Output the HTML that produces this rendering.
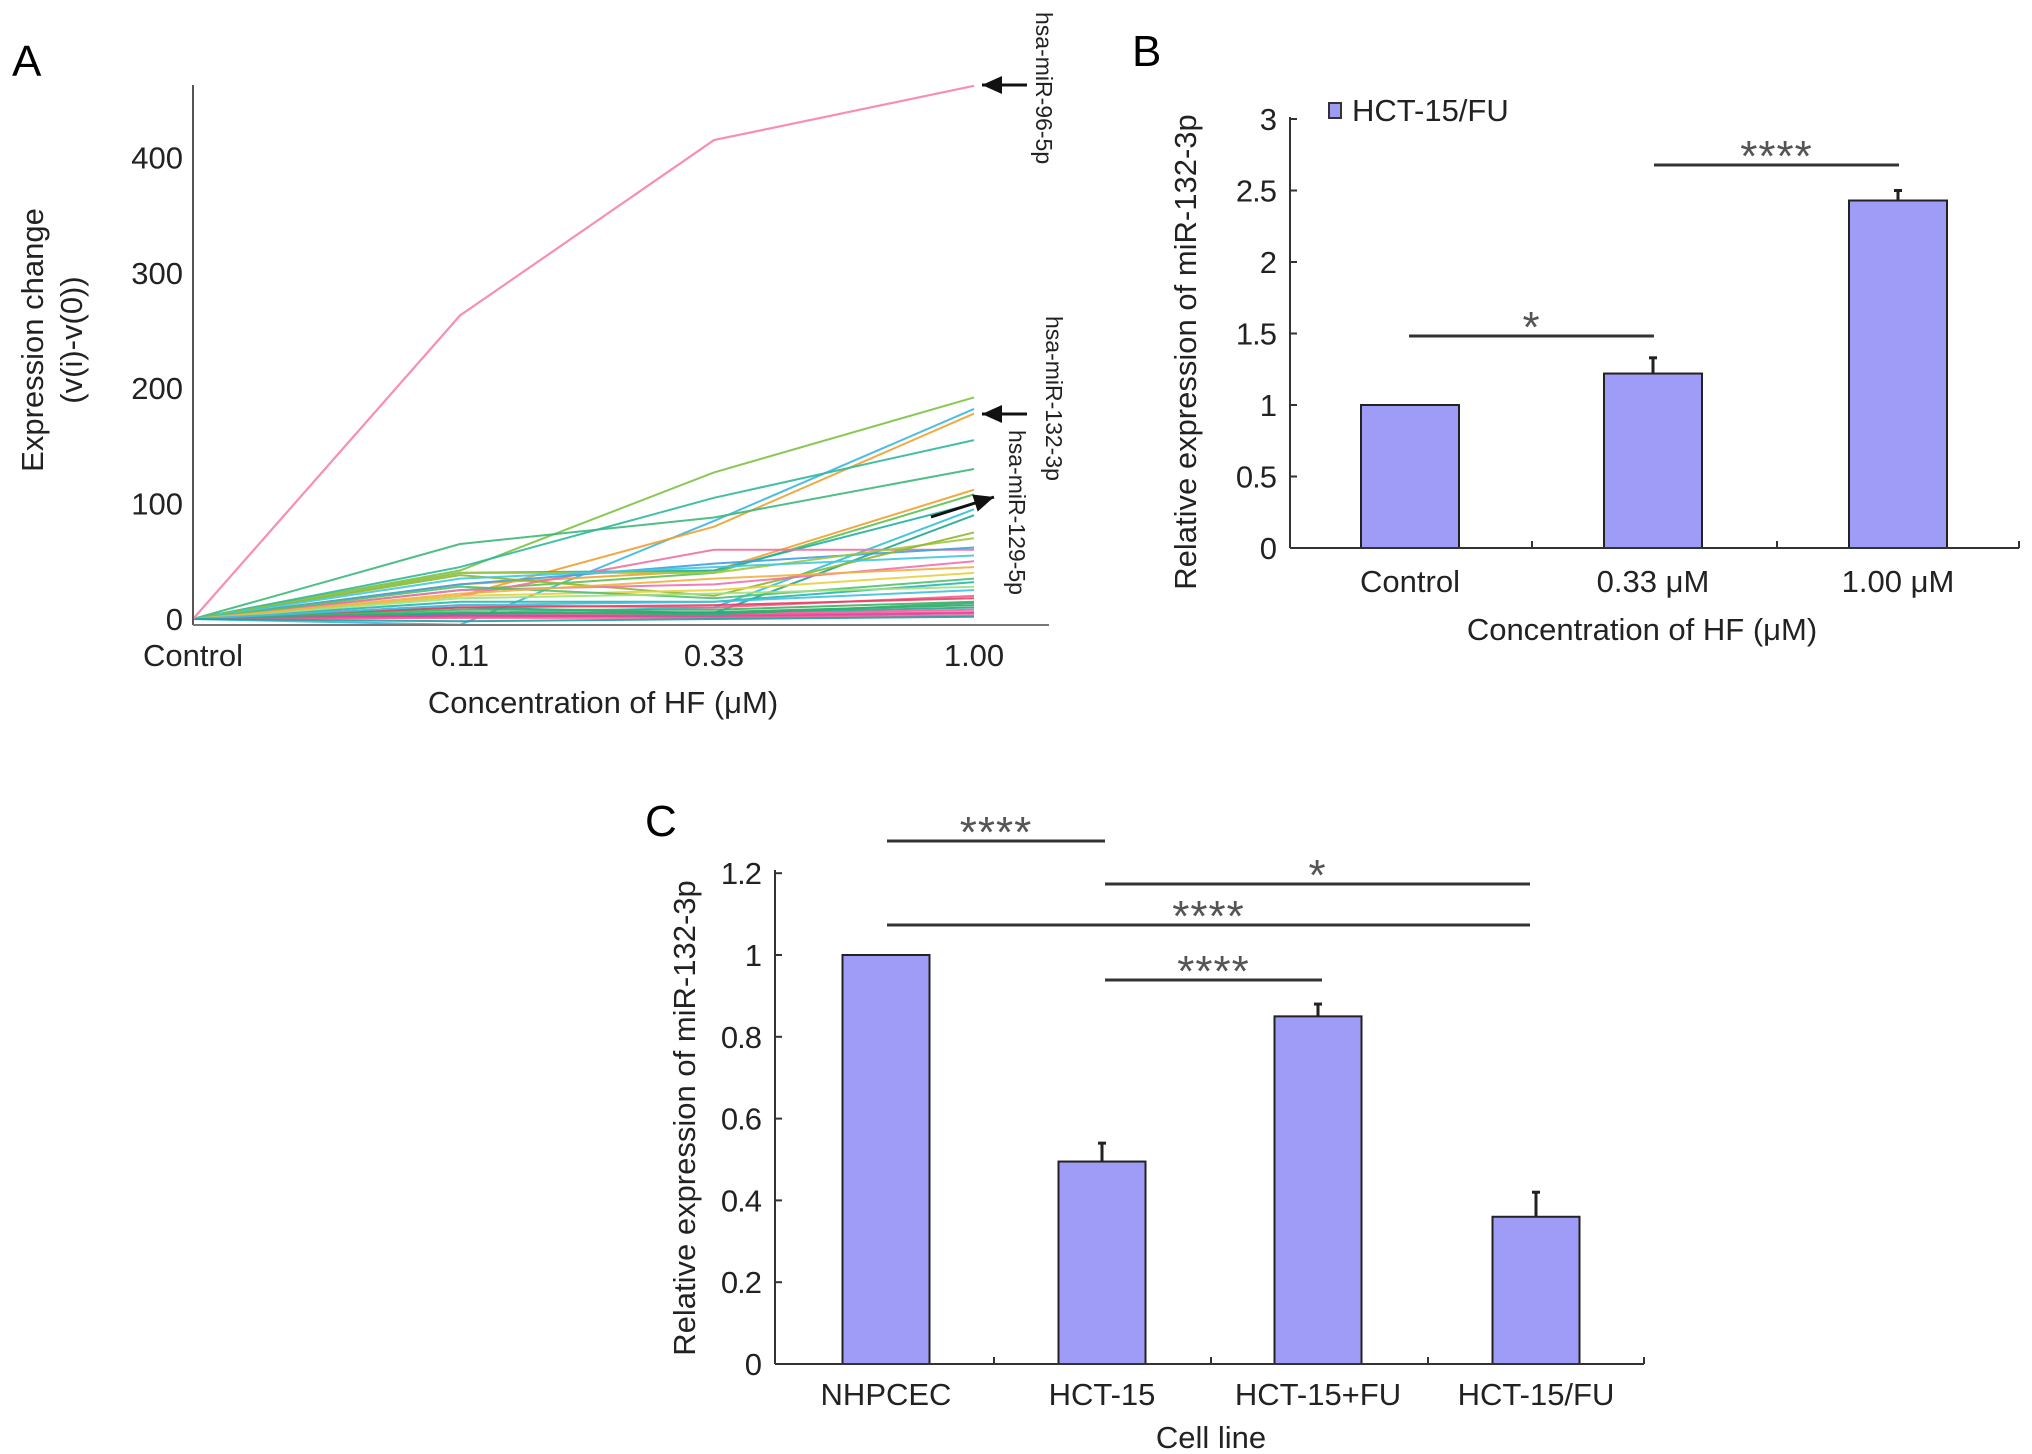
<!DOCTYPE html>
<html><head><meta charset="utf-8"><style>
html,body{margin:0;padding:0;background:#fff;}
svg{display:block;font-family:"Liberation Sans",Arial,sans-serif;}
</style></head><body>
<svg id="fig" width="2032" height="1454" viewBox="0 0 2032 1454" xmlns="http://www.w3.org/2000/svg">
<rect width="2032" height="1454" fill="#fff"/>
<g id="pa"></g>
<g id="pb"></g>
<g id="pc"></g>
</svg>
<script>
// ---------- Panel A data ----------
const aCategories = ["Control","0.11","0.33","1.00"];
const aTicks = [0,100,200,300,400];
const aMain = [0,263,415,462];
const aSeries = [
 [0,42,127,192],[0,-5,85,182],[0,20,80,178],[0,65,88,130],[0,45,105,155],
 [0,30,42,112],[0,25,40,108],[0,40,42,100],[0,5,10,95],[0,10,5,90],
 [0,20,60,60],[0,30,48,62],[0,40,40,70],[0,38,20,75],[0,35,45,55],
 [0,25,30,50],[0,20,25,40],[0,28,18,35],[0,15,15,32],[0,12,10,20],
 [0,10,12,18],[0,8,8,15],[0,5,6,12],[0,4,5,10],[0,3,4,8],[0,2,3,6],
 [0,6,4,14],[0,3,2,5],[0,1,1,3],[0,18,22,28],[0,22,35,45],[0,12,15,25],[0,-2,0,2]
];
const aColors = ["#7cc242","#3bb6e0","#f0a030","#3cb878","#2fb89a","#f0a030","#5cc050","#20b0a0","#30c0d8","#20a890",
 "#f070a0","#40a0e0","#a0c840","#90b830","#40c8e0","#f070b0","#e8d040","#50c070","#20b8b0","#f06090",
 "#e84060","#40b060","#30a860","#20a890","#f060a0","#f05090","#30b070","#e040a0","#f06090","#a0e080","#f0b040","#40c0e0","#20a0a0"];
// ---------- Panel B data ----------
const bCategories = ["Control","0.33 \u03bcM","1.00 \u03bcM"];
const bValues = [1.0,1.22,2.43];
const bErrors = [0,0.11,0.07];
const bTicks = [0,0.5,1,1.5,2,2.5,3];
const bTickLabels = ["0","0.5","1","1.5","2","2.5","3"];
// ---------- Panel C data ----------
const cCategories = ["NHPCEC","HCT-15","HCT-15+FU","HCT-15/FU"];
const cValues = [1.0,0.495,0.85,0.36];
const cErrors = [0,0.045,0.03,0.06];
const cTicks = [0,0.2,0.4,0.6,0.8,1,1.2];
const cTickLabels = ["0","0.2","0.4","0.6","0.8","1","1.2"];

const NS="http://www.w3.org/2000/svg";
function mk(parent,tag,attrs,text){const e=document.createElementNS(NS,tag);for(const k in attrs)e.setAttribute(k,attrs[k]);if(text!==undefined)e.textContent=text;parent.appendChild(e);return e;}

// ===== Panel A =====
(function(){
 const g=document.getElementById('pa');
 const x0=193, xs=[193,460,714,974], y0=619, per=1.154;
 const X=i=>xs[i], Y=v=>y0-v*per;
 let t=mk(g,'text',{x:12,y:76,'font-size':44},'A');
 
 
 aSeries.forEach((s,si)=>{
  const p=mk(g,'polyline',{points:s.map((v,i)=>X(i)+','+Y(v)).join(' '),fill:'none',stroke:aColors[si%aColors.length],'stroke-width':2,opacity:0.9});
  
  
 });
 const m=mk(g,'polyline',{points:aMain.map((v,i)=>X(i)+','+Y(v)).join(' '),fill:'none',stroke:'#f78fb3','stroke-width':2.2});
 
 
 const ax=mk(g,'line',{x1:x0,y1:85,x2:x0,y2:625,stroke:'#555','stroke-width':2});
 
 
 const bx=mk(g,'line',{x1:x0,y1:625,x2:1049,y2:625,stroke:'#777','stroke-width':2});
 
 
 aTicks.forEach(v=>{
  const l=mk(g,'text',{x:183,y:Y(v)+11,'font-size':31,'text-anchor':'end',fill:'#222'},String(v));
  
  
 });
 aCategories.forEach((c,i)=>{
  const l=mk(g,'text',{x:X(i),y:666,'font-size':31,'text-anchor':'middle',fill:'#222'},c);
  
  
 });
 let xt=mk(g,'text',{x:603,y:713,'font-size':31,'text-anchor':'middle',fill:'#222'},'Concentration of HF (\u03bcM)');
 
 
 let yt=mk(g,'text',{transform:'translate(43,340) rotate(-90)','font-size':31,'text-anchor':'middle',fill:'#222'},'Expression change');
 
 
 let yt2=mk(g,'text',{transform:'translate(82,340) rotate(-90)','font-size':31,'text-anchor':'middle',fill:'#222'},'(v(i)-v(0))');
 
 
 const labs=[['hsa-miR-96-5p',1036,12],['hsa-miR-132-3p',1046,316],['hsa-miR-129-5p',1009,430]];
 labs.forEach(([s,x,y])=>{
  const l=mk(g,'text',{transform:`translate(${x},${y}) rotate(90)`,'font-size':23,fill:'#222'},s);
  
  
 });
 [[1027,85,982,85],[1027,414,982,414],[931,517,994,497]].forEach(([x1,y1,x2,y2])=>{
  const l=mk(g,'line',{x1,y1,x2,y2,stroke:'#111','stroke-width':3});
  
  
  const a=Math.atan2(y2-y1,x2-x1),L=20,W=9;
  const pts=[[x2,y2],[x2-L*Math.cos(a)+W*Math.sin(a),y2-L*Math.sin(a)-W*Math.cos(a)],[x2-L*Math.cos(a)-W*Math.sin(a),y2-L*Math.sin(a)+W*Math.cos(a)]];
  const h=mk(g,'polygon',{points:pts.map(p=>p.join(',')).join(' '),fill:'#111'});
  
  
 });
})();

function barPanel(g,o){
 const {ax,y0,per,yTop,xEnd,centers,bw,cats,vals,errs,ticks,tickLabels,seps,labelY}=o;
 const Y=v=>y0-v*per;
 vals.forEach((v,i)=>{
  const r=mk(g,'rect',{x:centers[i]-bw/2,y:Y(v),width:bw,height:y0-Y(v),fill:'#9e9cf7',stroke:'#222','stroke-width':2});
  
  
  if(errs[i]>0){
   const e=mk(g,'line',{x1:centers[i],y1:Y(v),x2:centers[i],y2:Y(v+errs[i]),stroke:'#222','stroke-width':3});
   
   
   const c=mk(g,'line',{x1:centers[i]-4,y1:Y(v+errs[i]),x2:centers[i]+4,y2:Y(v+errs[i]),stroke:'#222','stroke-width':3});
   
   
  }
  const l=mk(g,'text',{x:centers[i],y:labelY,'font-size':31,'text-anchor':'middle',fill:'#222'},cats[i]);
  
  
 });
 const a=mk(g,'line',{x1:ax,y1:yTop,x2:ax,y2:y0,stroke:'#333','stroke-width':2});
 
 
 const b=mk(g,'line',{x1:ax,y1:y0,x2:xEnd,y2:y0,stroke:'#333','stroke-width':2});
 
 
 ticks.forEach((v,i)=>{
  const t=mk(g,'line',{x1:ax,y1:Y(v),x2:ax+7,y2:Y(v),stroke:'#333','stroke-width':2});
  
  
  const l=mk(g,'text',{x:ax-14,y:Y(v)+11,'font-size':31,'text-anchor':'end',fill:'#222','letter-spacing':'-1'},tickLabels[i]);
  
  
 });
 seps.concat([xEnd]).forEach(x=>{
  const t=mk(g,'line',{x1:x,y1:y0,x2:x,y2:y0-7,stroke:'#333','stroke-width':2});
  
  
 });
}
function sig(g,x1,x2,y,s){
 const l=mk(g,'line',{x1,y1:y,x2,y2:y,stroke:'#333','stroke-width':3});
 
 
 const t=mk(g,'text',{x:(x1+x2)/2,y:y+6,'font-size':44,'text-anchor':'middle',fill:'#555','letter-spacing':'1'},s);
 
 
}

// ===== Panel B =====
(function(){
 const g=document.getElementById('pb');
 barPanel(g,{ax:1290,y0:548,per:143,yTop:117,xEnd:2019,centers:[1410,1653,1898],bw:98,cats:bCategories,vals:bValues,errs:bErrors,ticks:bTicks,tickLabels:bTickLabels,seps:[1532,1777],labelY:592});
 let t=mk(g,'text',{x:1132,y:66,'font-size':44},'B');
 
 
 const lg=mk(g,'rect',{x:1329,y:103,width:12,height:15,fill:'#9e9cf7',stroke:'#333','stroke-width':2});
 
 
 const lt=mk(g,'text',{x:1352,y:121,'font-size':31,fill:'#222'},'HCT-15/FU');
 
 
 sig(g,1409,1654,336,'*');
 sig(g,1654,1899,165,'****');
 const xt=mk(g,'text',{x:1642,y:640,'font-size':31,'text-anchor':'middle',fill:'#222'},'Concentration of HF (\u03bcM)');
 
 
 const yt=mk(g,'text',{transform:'translate(1196,352) rotate(-90)','font-size':31,'text-anchor':'middle',fill:'#222'},'Relative expression of miR-132-3p');
 
 
})();

// ===== Panel C =====
(function(){
 const g=document.getElementById('pc');
 barPanel(g,{ax:775,y0:1364,per:409,yTop:870,xEnd:1644,centers:[886,1102,1318,1536],bw:87,cats:cCategories,vals:cValues,errs:cErrors,ticks:cTicks,tickLabels:cTickLabels,seps:[994,1211,1428],labelY:1405});
 let t=mk(g,'text',{x:645,y:836,'font-size':44},'C');
 
 
 sig(g,887,1105,841,'****');
 sig(g,1105,1530,884,'*');
 sig(g,887,1530,925,'****');
 sig(g,1105,1322,980,'****');
 const xt=mk(g,'text',{x:1211,y:1448,'font-size':31,'text-anchor':'middle',fill:'#222'},'Cell line');
 
 
 const yt=mk(g,'text',{transform:'translate(695,1118) rotate(-90)','font-size':31,'text-anchor':'middle',fill:'#222'},'Relative expression of miR-132-3p');
 
 
})();
</script>
</body></html>
